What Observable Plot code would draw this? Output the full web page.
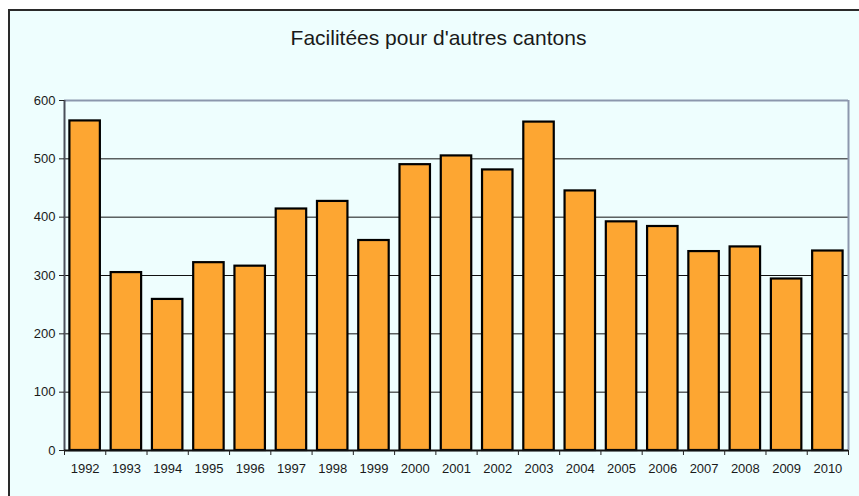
<!DOCTYPE html>
<html>
<head>
<meta charset="utf-8">
<script src="https://cdn.jsdelivr.net/npm/d3@7"></script>
<script src="https://cdn.jsdelivr.net/npm/@observablehq/plot@0.6"></script>
<style>
  html, body { margin: 0; padding: 0; background: #ffffff; }
  #wrap { position: relative; width: 859px; height: 496px; overflow: hidden; font-family: "Liberation Sans", Arial, sans-serif; }
  #panel { position: absolute; left: 8px; top: 9px; width: 900px; height: 520px; background: #eefefe; border-left: 2px solid #2a2a2a; border-top: 2px solid #2a2a2a; }
  #title { position: absolute; left: 0; width: 877px; top: 26px; text-align: center; font-size: 21px; color: #1a1a1a; }
  #chart { position: absolute; left: 0; top: 0; }
</style>
</head>
<body>
<div id="wrap">
  <div id="panel"></div>
  <div id="title">Facilitées pour d'autres cantons</div>
  <div id="chart"></div>
</div>
<script>
const years = [1992,1993,1994,1995,1996,1997,1998,1999,2000,2001,2002,2003,2004,2005,2006,2007,2008,2009,2010];
const values = [565,305,259,322,316,414,427,360,490,505,481,563,445,392,384,341,349,294,342];
const yTicks = [0,100,200,300,400,500,600];
const gridTicks = [100,200,300,400,500];

const data = years.map((y, i) => ({year: y, value: values[i]}));
const boundaries = years.map(y => y - 0.5).concat([years[years.length - 1] + 0.5]);
const xMin = years[0] - 0.5, xMax = years[years.length - 1] + 0.5;

const chart = Plot.plot({
  width: 859,
  height: 496,
  marginLeft: 64,
  marginRight: 11,
  marginTop: 100,
  marginBottom: 46,
  style: {background: "transparent", fontFamily: "'Liberation Sans', Arial, sans-serif", fontSize: "13px", color: "#222"},
  x: {type: "linear", domain: [xMin, xMax]},
  y: {domain: [0, 600]},
  marks: [
    Plot.ruleY(gridTicks, {stroke: "#111", strokeWidth: 1}),
    Plot.ruleY([600], {stroke: "#8c97ad", strokeWidth: 2}),
    Plot.ruleX([xMax], {stroke: "#8c97ad", strokeWidth: 2}),
    Plot.rectY(data, {x1: d => d.year - 0.5, x2: d => d.year + 0.5, y: "value", fill: "#fda632", stroke: "#000", strokeWidth: 2.2, insetLeft: 5.4, insetRight: 5.4}),
    Plot.ruleX([xMin], {stroke: "#4a4f5a", strokeWidth: 2}),
    Plot.ruleY([0], {stroke: "#111", strokeWidth: 2}),
    Plot.axisX(boundaries, {tickSize: 5, tickFormat: () => "", stroke: "#222", label: null}),
    Plot.axisX(years, {tickSize: 0, tickPadding: 13, tickFormat: "d", fontSize: 13, fill: "#1a1a1a", label: null}),
    Plot.axisY(yTicks, {tickSize: 5, tickPadding: 4, stroke: "#222", fontSize: 13, fill: "#1a1a1a", label: null})
  ]
});
document.getElementById("chart").appendChild(chart);
</script>
</body>
</html>
